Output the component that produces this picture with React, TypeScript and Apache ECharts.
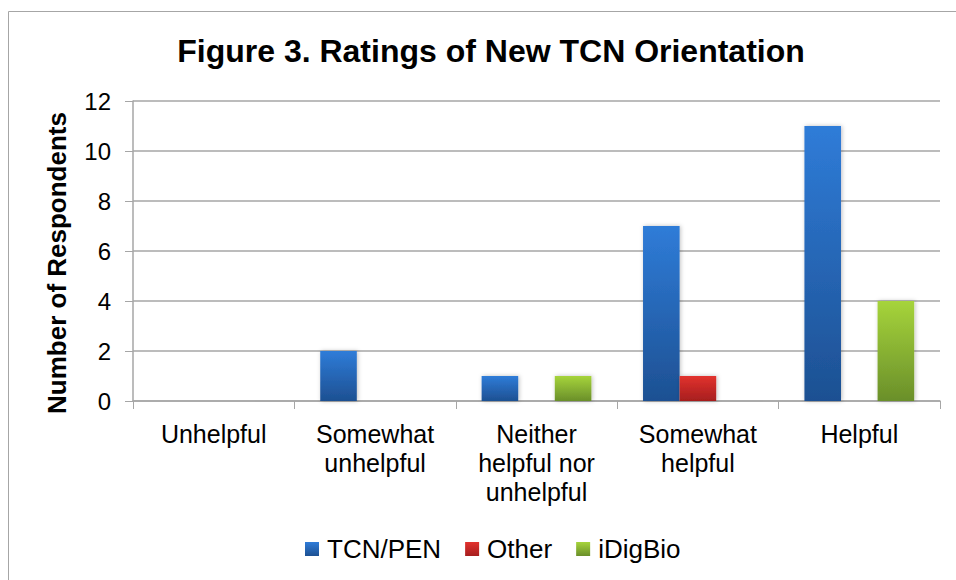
import React, { useEffect, useRef } from "react";
import * as echarts from "echarts";

const categories = ["Unhelpful", "Somewhat\nunhelpful", "Neither\nhelpful nor\nunhelpful", "Somewhat\nhelpful", "Helpful"];
const tcnPen = [0, 2, 1, 7, 11];
const other = [0, 0, 0, 1, 0];
const idigbio = [0, 0, 1, 0, 4];
const seriesNames = ["TCN/PEN", "Other", "iDigBio"];

const FONT = "Liberation Sans, Arial, sans-serif";

const grad = (top: string, bottom: string) =>
  new echarts.graphic.LinearGradient(0, 0, 0, 1, [
    { offset: 0, color: top },
    { offset: 1, color: bottom },
  ]);

export default function App() {
  const ref = useRef<HTMLDivElement>(null);
  useEffect(() => {
    const chart = echarts.init(ref.current!, null, { renderer: "svg" });
    const colors = [grad("#2f7cd8", "#1d5092"), grad("#e2322e", "#a61e1e"), grad("#a6d43b", "#6a8f2a")];
    const datasets = [tcnPen, other, idigbio];
    chart.setOption({
      animation: false,
      backgroundColor: "#fff",
      title: {
        text: "Figure 3. Ratings of New TCN Orientation",
        left: 486,
        textAlign: "center",
        top: 30,
        textStyle: { fontFamily: FONT, fontSize: 32, fontWeight: "bold", color: "#000" },
      },
      graphic: [
        {
          type: "polyline",
          shape: { points: [[8.5, 600], [8.5, 11.5], [960, 11.5]] },
          style: { stroke: "#a6a6a6", lineWidth: 1, fill: "none" },
          silent: true,
        },
      ],
      legend: {
        top: 531,
        left: 300,
        itemWidth: 14,
        itemHeight: 14,
        itemGap: 24,
        icon: "rect",
        data: seriesNames,
        textStyle: { fontFamily: FONT, fontSize: 26, color: "#000", padding: [0, 0, 0, 3] },
      },
      grid: { left: 133, right: 16, top: 101, bottom: 179 },
      xAxis: {
        type: "category",
        data: categories,
        axisLine: { lineStyle: { color: "#a6a6a6", width: 1.5 } },
        axisTick: { show: true, length: 8, lineStyle: { color: "#a6a6a6" } },
        axisLabel: {
          fontFamily: FONT,
          fontSize: 25,
          color: "#000",
          lineHeight: 29,
          margin: 18,
          interval: 0,
        },
      },
      yAxis: {
        type: "value",
        min: 0,
        max: 12,
        interval: 2,
        name: "Number of Respondents",
        nameLocation: "middle",
        nameGap: 63,
        nameTextStyle: {
          fontFamily: FONT,
          fontSize: 26,
          fontWeight: "bold",
          color: "#000",
          padding: [0, 24, 0, 0],
        },
        axisLine: { show: true, lineStyle: { color: "#a6a6a6", width: 1.5 } },
        axisTick: { show: true, length: 8, lineStyle: { color: "#a6a6a6" } },
        axisLabel: { fontFamily: FONT, fontSize: 24, color: "#000", margin: 22 },
        splitLine: { lineStyle: { color: "#a6a6a6", width: 1.5 } },
      },
      series: seriesNames.map((name, i) => ({
        name,
        type: "bar",
        data: datasets[i],
        barGap: "0%",
        barCategoryGap: "32%",
        itemStyle: {
          color: colors[i],
          shadowBlur: 4,
          shadowColor: "rgba(0,0,0,0.25)",
          shadowOffsetX: 1,
          shadowOffsetY: 0,
        },
      })),
    });
    return () => chart.dispose();
  }, []);
  return <div ref={ref} style={{ width: 956, height: 580, position: "absolute", left: 0, top: 0 }} />;
}
